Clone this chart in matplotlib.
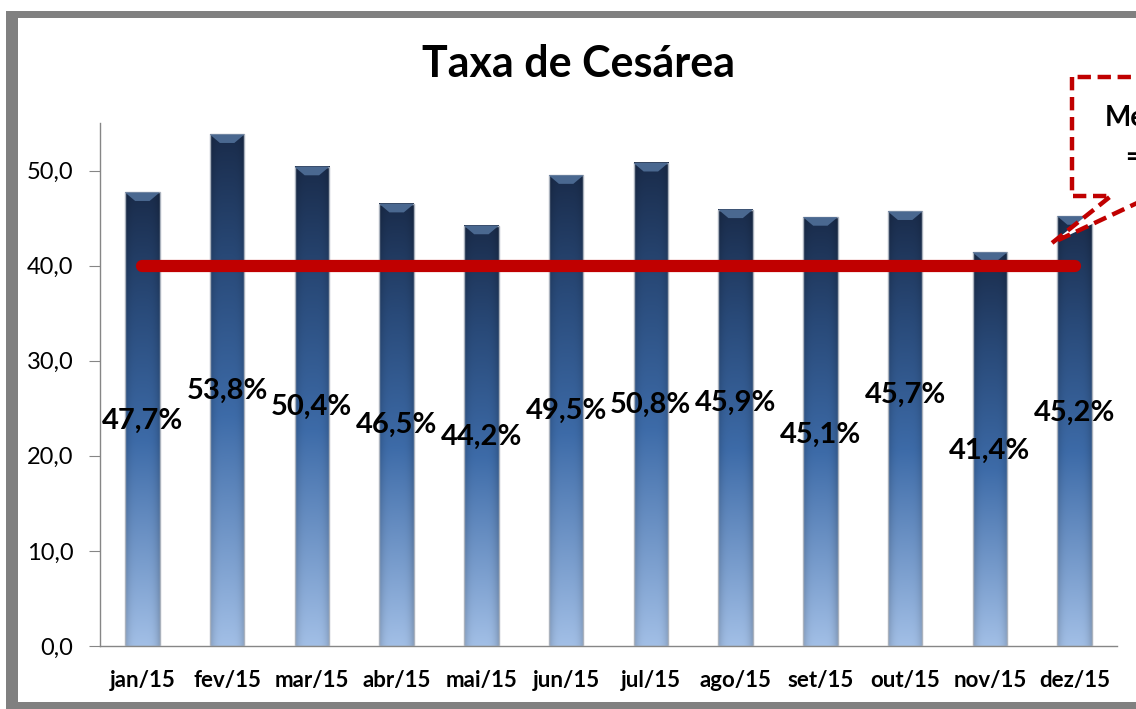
import numpy as np
import matplotlib
matplotlib.use("Agg")
from matplotlib import pyplot as plt
from matplotlib.colors import LinearSegmentedColormap
from matplotlib.patches import Polygon, Rectangle
from matplotlib.ticker import FuncFormatter

plt.rcParams['font.family'] = ['Lato', 'DejaVu Sans']

# data
months = ['jan/15', 'fev/15', 'mar/15', 'abr/15', 'mai/15', 'jun/15',
          'jul/15', 'ago/15', 'set/15', 'out/15', 'nov/15', 'dez/15']
taxa = [47.7, 53.8, 50.4, 46.5, 44.2, 49.5, 50.8, 45.9, 45.1, 45.7, 41.4, 45.2]
meta = 40.0
# where excel dropped the data labels (y, in axis units)
label_y = [23.7, 26.8, 25.2, 23.3, 22.0, 24.7, 25.4, 25.6, 22.2, 26.4, 20.5, 24.5]

W, H = 1136, 709
fig = plt.figure(figsize=(W / 100, H / 100), dpi=100)
ax = fig.add_axes([100 / W, 1 - 646 / H, 1017 / W, 523 / H])

# bar gradient: light at the base, dark navy at the top
grad = LinearSegmentedColormap.from_list(
    'bar', [(0.0, '#a2bfe6'), (0.45, '#3d6ba8'), (0.75, '#294a79'), (1.0, '#1a2c4b')])
rows = grad(np.linspace(0, 1, 256))[:, :3]
cols = np.linspace(-1, 1, 40)
shade = 1.0 - 0.18 * cols ** 4
img = rows[:, None, :] * shade[None, :, None]

x = np.arange(len(months))
bw = 0.41
for xi, v in zip(x, taxa):
    ax.imshow(img, extent=(xi - bw / 2, xi + bw / 2, 0, v), origin='lower',
              aspect='auto', zorder=2, interpolation='bilinear')
    ax.add_patch(Rectangle((xi - bw / 2, 0), bw, v, fill=False,
                           edgecolor='#aab2bd', lw=1.0, zorder=3))
    # bevel highlight at the top of the bar
    ax.add_patch(Polygon([(xi - bw / 2, v), (xi + bw / 2, v),
                          (xi + bw / 2 - 0.12, v - 0.9), (xi - bw / 2 + 0.12, v - 0.9)],
                         closed=True, facecolor='#4a6890', edgecolor='none', zorder=3))

ax.plot([x[0], x[-1]], [meta, meta], color='#c00000', lw=8.8,
        solid_capstyle='round', zorder=4)

for xi, v, ly in zip(x, taxa, label_y):
    ax.text(xi, ly, f"{v:.1f}%".replace('.', ','), ha='center', va='center',
            fontsize=21, fontweight='bold', color='black', zorder=5)

ax.set_xlim(-0.5, len(months) - 0.5)
ax.set_ylim(0, 55)
ax.set_yticks(np.arange(0, 51, 10))
ax.yaxis.set_major_formatter(FuncFormatter(lambda v, p: f"{v:.1f}".replace('.', ',')))
ax.set_xticks(x)
ax.set_xticklabels(months, fontsize=16, fontweight='bold')
ax.tick_params(axis='y', labelsize=17, length=8, color='#868686', pad=11)
ax.tick_params(axis='x', length=0, pad=17)
for s in ['top', 'right']:
    ax.spines[s].set_visible(False)
for s in ['left', 'bottom']:
    ax.spines[s].set_color('#868686')
    ax.spines[s].set_linewidth(1.0)

fig.text(578 / W, 1 - 64 / H, 'Taxa de Cesárea', ha='center', va='center',
         fontsize=31, fontweight='bold')

# overlay in pixel units for frame and callout
ov = fig.add_axes([0, 0, 1, 1], zorder=10)
ov.set_xlim(0, W)
ov.set_ylim(H, 0)
ov.axis('off')
ov.patch.set_alpha(0)
gray = '#808080'
ov.add_patch(Rectangle((6, 11), 12, H - 11, color=gray, lw=0))
ov.add_patch(Rectangle((6, 11), W, 7, color=gray, lw=0))
ov.add_patch(Rectangle((6, 702), W, 8, color=gray, lw=0))

callout = [(1072, 77), (1072, 196), (1111, 196), (1052, 243), (1152, 196),
           (1300, 196), (1300, 77)]
ov.add_patch(Polygon(callout, closed=True, facecolor='white', edgecolor='#c00000',
                     lw=3.2, linestyle=(0, (3, 1.5)), joinstyle='miter'))
ov.text(1105, 118, 'Meta', ha='left', va='center', fontsize=20, fontweight='bold')
ov.text(1126, 158, '= 40%', ha='left', va='center', fontsize=20, fontweight='bold')

fig.savefig('out.png', dpi=100)
